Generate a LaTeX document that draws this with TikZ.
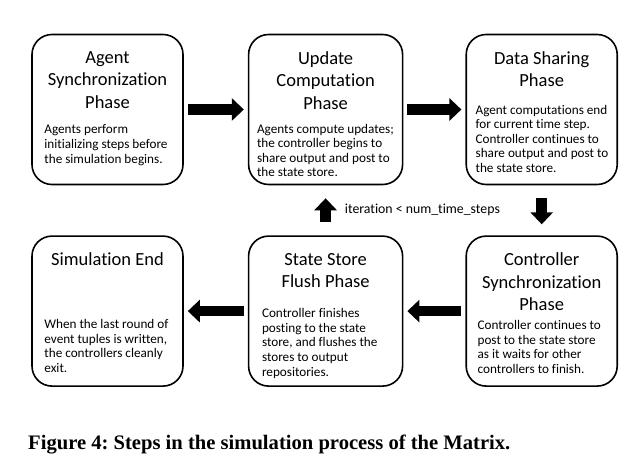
\documentclass[tikz,border=0pt]{standalone}
\usepackage{fontspec}
\setmainfont{Carlito}[Ligatures={NoCommon,NoContextual}]
\newfontfamily\captionfont{Liberation Serif}
\usetikzlibrary{positioning,arrows.meta}
\frenchspacing

\begin{document}
\begin{tikzpicture}[x=1pt,y=1pt,
  phase/.style={draw, line width=1.6pt, rounded corners=20pt, minimum width=151pt, minimum height=150pt, inner sep=0pt},
  title/.style={align=center, inner sep=0pt, font=\fontsize{18.5}{22.5}\selectfont},
  body/.style={anchor=north west, align=left, inner sep=0pt, font=\fontsize{13.2}{14.6}\selectfont},
  flow/.style={line width=10.5pt, -{Triangle[length=12pt,width=22pt]}, shorten <=4pt, shorten >=4pt}]
\useasboundingbox (0,0) rectangle (631,471);
\node[phase] (agent) at (107.5,361.5) {};
\node[phase, minimum width=154pt, right=64pt of agent] (update) {};
\node[phase, right=62pt of update] (share) {};
\node[phase, below=50pt of agent] (simend) {};
\node[phase, minimum width=154pt, right=64pt of simend] (flush) {};
\node[phase, right=62pt of flush] (ctrl) {};
\node[title, below=17.5pt of agent.north] (agent-t) {Agent\\Synchronization\\Phase};
\node[title, below=17.5pt of update.north] (update-t) {Update\\Computation\\Phase};
\node[title, below=17.5pt of share.north] (share-t) {Data Sharing\\Phase};
\node[title, below=17.5pt of simend.north] (simend-t) {Simulation End};
\node[title, below=17.5pt of flush.north] (flush-t) {State Store\\Flush Phase};
\node[title, below=17.5pt of ctrl.north] (ctrl-t) {Controller\\Synchronization\\Phase};
\node[body] (agent-b) at ([xshift=13pt,yshift=-91pt]agent.north west) {Agents perform\\initializing steps before\\the simulation begins.};
\node[body] (update-b) at ([xshift=9pt,yshift=-90pt]update.north west) {Agents compute updates;\\the controller begins to\\share output and post to\\the state store.};
\node[body] (share-b) at ([xshift=10pt,yshift=-71pt]share.north west) {Agent computations end\\for current time step.\\Controller continues to\\share output and post to\\the state store.};
\node[body] (simend-b) at ([xshift=13pt,yshift=-84pt]simend.north west) {When the last round of\\event tuples is written,\\the controllers cleanly\\exit.};
\node[body] (flush-b) at ([xshift=14pt,yshift=-73pt]flush.north west) {Controller finishes\\posting to the state\\store, and flushes the\\stores to output\\repositories.};
\node[body] (ctrl-b) at ([xshift=12pt,yshift=-85pt]ctrl.north west) {Controller continues to\\post to the state store\\as it waits for other\\controllers to finish.};
\draw[flow] (agent) -- (update);
\draw[flow] (update) -- (share);
\draw[flow, shorten <=13pt, shorten >=11pt] (share) -- (ctrl);
\draw[flow] (ctrl) -- (flush);
\draw[flow] (flush) -- (simend);
\draw[flow, shorten <=13pt, shorten >=13pt] (flush) -- node[right=14pt, inner sep=0pt, font=\fontsize{13.8}{16}\selectfont] (loop) {iteration < num\_time\_steps} (update);
\node[anchor=west, inner sep=0pt, font=\captionfont\bfseries\fontsize{20.6}{24}\selectfont] (caption) at (28,26) {Figure 4: Steps in the simulation process of the Matrix.};
\end{tikzpicture}
\end{document}
